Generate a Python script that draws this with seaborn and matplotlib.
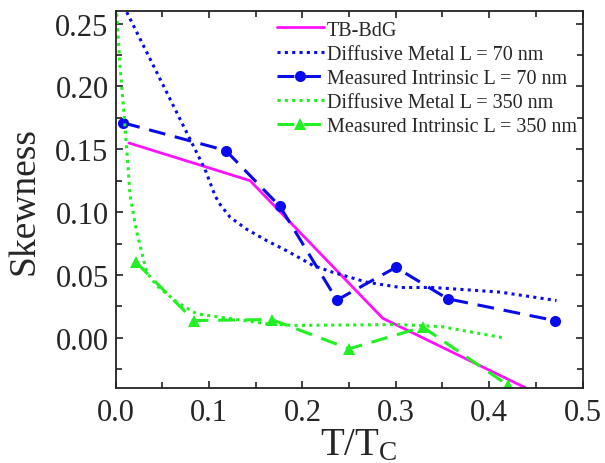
import matplotlib
matplotlib.use("Agg")
import matplotlib.pyplot as plt
from matplotlib.ticker import MultipleLocator
import seaborn as sns

# TB-BdG theory
tb_x = [0.0143, 0.144, 0.286, 0.50]
tb_y = [0.155, 0.125, 0.0155, -0.062]

# Diffusive metal, L = 70 nm
dm70_x = [0.0, 0.0958, 0.1065, 0.112, 0.1225, 0.140, 0.162, 0.183,
          0.2117, 0.233, 0.269, 0.305, 0.340, 0.412, 0.472]
dm70_y = [0.277, 0.134, 0.113, 0.106, 0.096, 0.0865, 0.0772, 0.0693,
          0.0574, 0.052, 0.0442, 0.040, 0.040, 0.0363, 0.0296]

# Measured intrinsic, L = 70 nm
mi70_x = [0.0084, 0.118, 0.176, 0.237, 0.300, 0.3555, 0.470]
mi70_y = [0.171, 0.149, 0.1045, 0.030, 0.056, 0.031, 0.0137]

# Diffusive metal, L = 350 nm
dm350_x = [0.0, 0.0013, 0.0048, 0.0084, 0.012, 0.0155, 0.0227, 0.0334, 0.044, 0.0655, 0.087,
           0.162, 0.19, 0.305, 0.35, 0.415]
dm350_y = [0.27, 0.257, 0.216, 0.184, 0.150, 0.113, 0.084, 0.052, 0.0415, 0.0285, 0.019,
           0.0111, 0.0098, 0.0105, 0.0087, 0.0]

# Measured intrinsic, L = 350 nm
mi350_x = [0.0219, 0.084, 0.167, 0.250, 0.329, 0.420]
mi350_y = [0.060, 0.0137, 0.0145, -0.0088, 0.0085, -0.0378]

sns.set_theme(style="ticks")
plt.rcParams['font.family'] = ['Liberation Serif', 'DejaVu Serif']
plt.rcParams['mathtext.fontset'] = 'custom'
plt.rcParams['mathtext.rm'] = 'Liberation Serif'
plt.rcParams['mathtext.default'] = 'regular'

fig = plt.figure(figsize=(6.05, 4.64), dpi=100)
ax = fig.add_axes([0.191, 0.1616, 0.772, 0.8125])

blue = '#0a0aee'
green = '#22f022'
magenta = '#ff10ff'

sns.lineplot(x=tb_x, y=tb_y, ax=ax, sort=False, color=magenta, lw=2.0,
             label='TB-BdG')
sns.lineplot(x=dm70_x, y=dm70_y, ax=ax, sort=False, color=blue, lw=2.2,
             linestyle=(0, (1, 1.4)), label='Diffusive Metal L = 70 nm')
sns.lineplot(x=mi70_x, y=mi70_y, ax=ax, sort=False, color=blue, lw=2.2,
             linestyle=(0, (5.5, 3.2)), marker='o', markersize=8,
             markeredgewidth=0, label='Measured Intrinsic L = 70 nm')
sns.lineplot(x=dm350_x, y=dm350_y, ax=ax, sort=False, color=green, lw=2.2,
             linestyle=(0, (1, 1.4)), label='Diffusive Metal L = 350 nm')
sns.lineplot(x=mi350_x, y=mi350_y, ax=ax, sort=False, color=green, lw=2.2,
             linestyle=(0, (5.5, 3.2)), marker='^', markersize=9,
             markeredgewidth=0, label='Measured Intrinsic L = 350 nm')

ax.set_xlim(0.0, 0.5)
ax.set_ylim(-0.04, 0.26)
ax.xaxis.set_major_locator(MultipleLocator(0.1))
ax.xaxis.set_minor_locator(MultipleLocator(0.05))
ax.yaxis.set_major_locator(MultipleLocator(0.05))
ax.yaxis.set_minor_locator(MultipleLocator(0.025))
ax.xaxis.set_major_formatter(plt.FormatStrFormatter('%.1f'))
ax.yaxis.set_major_formatter(plt.FormatStrFormatter('%.2f'))

for s in ax.spines.values():
    s.set_linewidth(1.3)
    s.set_color('#222222')
ax.tick_params(which='both', direction='in', top=True, right=True,
               width=1.2, color='#222222')
ax.tick_params(which='major', length=5)
ax.tick_params(which='minor', length=4)
ax.tick_params(axis='x', labelsize=22, pad=7)
ax.tick_params(axis='y', labelsize=22, pad=5)

ax.set_xlabel('T/T$_\\mathregular{C}$', fontsize=28, labelpad=0)
ax.xaxis.label.set_x(0.52)
ax.set_ylabel('Skewness', fontsize=27, labelpad=10)

ax.legend(loc='upper left', bbox_to_anchor=(0.345, 0.975), frameon=False,
          fontsize=14.5, handlelength=2.35, handletextpad=0.15,
          labelspacing=0.25, borderpad=0, borderaxespad=0)

fig.savefig('out.png', dpi=100)
